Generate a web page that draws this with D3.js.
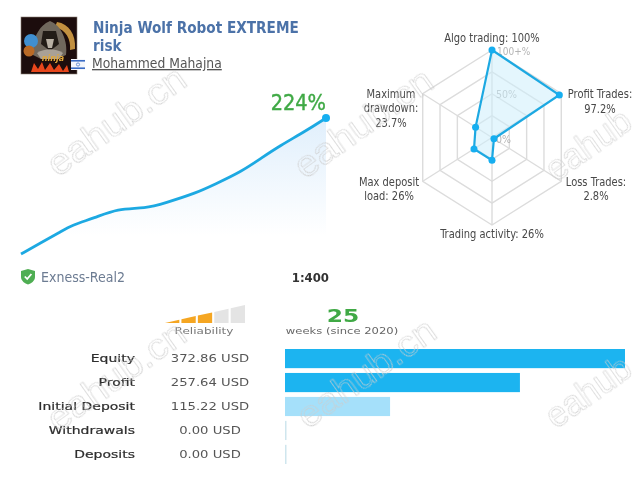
<!DOCTYPE html>
<html>
<head>
<meta charset="utf-8">
<style>
html, body { margin: 0; padding: 0; background: #fff; }
svg { display: block; }
</style>
<script src="https://d3js.org/d3.v7.min.js"></script>
</head>
<body>
<div id="chart"></div>
<script>
// growth curve
var growthWeeks = [0, 1.6, 3.2, 4.2, 6, 7.9, 10.2, 11.8, 14.3, 15.9, 18, 19.7, 21.2, 23.3, 25];
var growthValues = [0, 18, 36, 48, 59, 75, 75, 84, 100, 115, 135, 158, 178, 202, 224];

// radar
var radarNames = ["Algo trading", "Profit Trades", "Loss Trades", "Trading activity", "Max deposit load", "Maximum drawdown"];
var radarValues = [100, 97.2, 2.8, 26, 26, 23.7];
var radarRings = [25, 50, 75, 100];

// money table
var moneyNames = ["Equity", "Profit", "Initial Deposit", "Withdrawals", "Deposits"];
var moneyValues = [372.86, 257.64, 115.22, 0, 0];
var moneyColors = ["#1eb4f0", "#1eb4f0", "#a5e0fa", "#cfe6ee", "#cfe6ee"];

// reliability steps, 1 = lit
var reliabilitySteps = [1, 1, 1, 0, 0];

var svg = d3.select("#chart").append("svg")
	.attr("width", 640)
	.attr("height", 480);

var defs = svg.append("defs");
defs.append("filter").attr("id", "soft")
	.attr("x", "-5%").attr("y", "-5%").attr("width", "110%").attr("height", "110%")
	.append("feGaussianBlur").attr("stdDeviation", 0.35);

var grad = defs.append("linearGradient").attr("id", "areaFade")
	.attr("gradientUnits", "userSpaceOnUse")
	.attr("x1", 0).attr("x2", 0).attr("y1", 118).attr("y2", 236);
grad.append("stop").attr("offset", "0%").attr("stop-color", "#e0effc");
grad.append("stop").attr("offset", "100%").attr("stop-color", "#ffffff");

var page = svg.append("g").attr("filter", "url(#soft)");

var sans = "'DejaVu Sans Condensed', 'DejaVu Sans', sans-serif";
var wide = "'DejaVu Sans', sans-serif";

function label(parent, txt, x, y, size, color, anchor, weight, family, stretch) {
	return parent.append("text")
		.attr("transform", "translate(" + x + "," + y + ") scale(" + (stretch || 1) + ",1)")
		.attr("text-anchor", anchor || "start")
		.attr("font-family", family || sans)
		.attr("font-size", size)
		.attr("font-weight", weight || "normal")
		.attr("fill", color)
		.text(txt);
}

// ---- avatar and header
var avatar = page.append("g").attr("transform", "translate(21,17)");
avatar.append("rect").attr("width", 56).attr("height", 57).attr("fill", "#1c0b08").attr("stroke", "#8a7f78").attr("stroke-width", 0.6);
avatar.append("path").attr("d", "M36 5 C48 7 55 17 54 32 L49 33 C50 22 45 13 34 10 Z").attr("fill", "#c2903f");
avatar.append("path").attr("d", "M12 38 C10 24 18 8 29 4 C40 8 47 24 45 38 L36 42 L20 42 Z").attr("fill", "#6f675d");
avatar.append("path").attr("d", "M22 14 L35 14 L38 27 L29 34 L20 27 Z").attr("fill", "#241b17");
avatar.append("path").attr("d", "M25 22 L33 22 L31 31 L27 31 Z").attr("fill", "#b9b1a4");
avatar.append("path").attr("d", "M16 36 C24 31 34 31 42 36 L38 42 L20 42 Z").attr("fill", "#a9a196");
avatar.append("circle").attr("cx", 10).attr("cy", 24).attr("r", 7).attr("fill", "#3f8fd0");
avatar.append("circle").attr("cx", 8).attr("cy", 34).attr("r", 5.5).attr("fill", "#b96a28");
avatar.append("text").attr("x", 32).attr("y", 44).attr("text-anchor", "middle")
	.attr("font-family", wide).attr("font-size", 8).attr("font-weight", "bold").attr("font-style", "italic")
	.attr("fill", "#e0a83c").text("ninja");
avatar.append("path")
	.attr("d", "M10 55 L13 46 L17 52 L21 45 L24 53 L29 46 L33 53 L38 47 L42 54 L46 48 L48 55 Z")
	.attr("fill", "#e8461c");

var flag = page.append("g").attr("transform", "translate(71,59)");
flag.append("rect").attr("width", 14).attr("height", 11).attr("fill", "#f4f6fb");
flag.append("rect").attr("y", 1).attr("width", 14).attr("height", 1.6).attr("fill", "#3a6cc4");
flag.append("rect").attr("y", 8.4).attr("width", 14).attr("height", 1.6).attr("fill", "#3a6cc4");
flag.append("circle").attr("cx", 7).attr("cy", 5.5).attr("r", 1.6).attr("fill", "none").attr("stroke", "#3a6cc4").attr("stroke-width", 0.7);

label(page, "Ninja Wolf Robot EXTREME", 93, 33, 15, "#4c72a8", "start", "bold", wide, 0.91);
label(page, "risk", 93, 51, 15, "#4c72a8", "start", "bold", wide, 0.91);
label(page, "Mohammed Mahajna", 92, 68, 13.5, "#555555", "start", "normal", sans, 1.02)
	.attr("text-decoration", "underline");

// ---- growth line
var xGrowth = d3.scaleLinear().domain([0, 25]).range([21, 326]);
var yGrowth = d3.scaleLinear().domain([0, 224]).range([254, 118]);
var growth = growthWeeks.map(function(w, i) { return { week: w, value: growthValues[i] }; });

page.append("path").datum(growth)
	.attr("fill", "url(#areaFade)")
	.attr("d", d3.area().curve(d3.curveBasis)
		.x(function(d) { return xGrowth(d.week); })
		.y0(yGrowth(0))
		.y1(function(d) { return yGrowth(d.value); }));
page.append("path").datum(growth)
	.attr("fill", "none")
	.attr("stroke", "#1fa9e2")
	.attr("stroke-width", 2.8)
	.attr("d", d3.line().curve(d3.curveBasis)
		.x(function(d) { return xGrowth(d.week); })
		.y(function(d) { return yGrowth(d.value); }));
page.append("circle")
	.attr("cx", xGrowth(growthWeeks[growthWeeks.length - 1]))
	.attr("cy", yGrowth(growthValues[growthValues.length - 1]))
	.attr("r", 4).attr("fill", "#17aff0");

label(page, growthValues[growthValues.length - 1] + "%", 326, 110, 21.5, "#3fa945", "end", "normal", sans)
	.attr("stroke", "#3fa945").attr("stroke-width", 0.4);

// ---- account line
var shield = page.append("g").attr("transform", "translate(21,269)");
shield.append("path").attr("d", "M7 0 L14 2 L14 8 C14 12 10 14.5 7 15.5 C4 14.5 0 12 0 8 L0 2 Z").attr("fill", "#4fae52");
shield.append("path").attr("d", "M3.8 7.5 L6.2 10 L10.4 5").attr("fill", "none").attr("stroke", "#fff").attr("stroke-width", 1.8);
label(page, "Exness-Real2", 41, 282, 14, "#6c7b92", "start", "normal", sans);
label(page, "1:400", 329, 282, 13, "#333333", "end", "bold", sans);

// ---- radar
var cx = 492, cy = 137.5;
var rScale = d3.scaleLinear().domain([0, 100]).range([0, 1]);
var radX = 80, radY = 87.5;
function radarPoint(value, i) {
	var a = i * Math.PI / 3;
	return [cx + radX * rScale(value) * Math.sin(a), cy - radY * rScale(value) * Math.cos(a)];
}
var radarLine = d3.line().curve(d3.curveLinearClosed);

page.selectAll(".ring").data(radarRings).enter().append("path")
	.attr("class", "ring")
	.attr("fill", "none").attr("stroke", "#dcdcdc").attr("stroke-width", 1.4)
	.attr("d", function(r) { return radarLine(radarNames.map(function(n, i) { return radarPoint(r, i); })); });
page.selectAll(".spoke").data(radarNames).enter().append("line")
	.attr("class", "spoke")
	.attr("stroke", "#dcdcdc").attr("stroke-width", 1.4)
	.attr("x1", cx).attr("y1", cy)
	.attr("x2", function(d, i) { return radarPoint(100, i)[0]; })
	.attr("y2", function(d, i) { return radarPoint(100, i)[1]; });

label(page, "100+%", 497, 55, 10, "#b4b4b4");
label(page, "50%", 496, 98, 10.5, "#b4b4b4");
label(page, "0%", 496, 143, 10.5, "#b4b4b4");

page.append("path")
	.attr("d", radarLine(radarValues.map(radarPoint)))
	.attr("fill", "#cdeefc").attr("fill-opacity", 0.55)
	.attr("stroke", "#1fa9e2").attr("stroke-width", 2.2);
page.selectAll(".dot").data(radarValues).enter().append("circle")
	.attr("class", "dot")
	.attr("cx", function(d, i) { return radarPoint(d, i)[0]; })
	.attr("cy", function(d, i) { return radarPoint(d, i)[1]; })
	.attr("r", 3.5).attr("fill", "#13aef0");

var ink = "#484848";
function radarLabel(txt, x, y) { return label(page, txt, x, y, 12, ink, "middle", "normal", sans, 0.92); }
radarLabel(radarNames[0] + ": " + radarValues[0] + "%", 492, 42);
radarLabel(radarNames[1] + ":", 600, 98);
radarLabel(radarValues[1] + "%", 600, 113);
radarLabel(radarNames[2] + ":", 596, 186);
radarLabel(radarValues[2] + "%", 596, 200);
radarLabel(radarNames[3] + ": " + radarValues[3] + "%", 492, 238);
radarLabel("Max deposit", 389, 186);
radarLabel("load: " + radarValues[4] + "%", 389, 200);
radarLabel("Maximum", 391, 98);
radarLabel("drawdown:", 391, 112);
radarLabel(radarValues[5] + "%", 391, 127);

// ---- reliability
var xRel = d3.scaleBand().domain(d3.range(reliabilitySteps.length)).range([165, 245]).paddingInner(0.13);
var yRel = d3.scaleLinear().domain([165, 245]).range([323, 305]);
page.selectAll(".rel").data(reliabilitySteps).enter().append("path")
	.attr("class", "rel")
	.attr("fill", function(d) { return d ? "#f5a623" : "#e4e4e4"; })
	.attr("d", function(d, i) {
		var x0 = xRel(i), x1 = x0 + xRel.bandwidth();
		return d3.line()([[x0, 323], [x0, yRel(x0)], [x1, yRel(x1)], [x1, 323]]) + "Z";
	});
label(page, "Reliability", 204, 334, 9.5, "#777777", "middle", "normal", wide, 1.27);
label(page, "25", 343, 322, 18, "#3fa945", "middle", "bold", wide, 1.3);
label(page, "weeks (since 2020)", 342, 334, 9.5, "#666666", "middle", "normal", wide, 1.22);

// ---- money table
var yMoney = d3.scaleBand().domain(moneyNames).range([349, 464]).paddingInner(0.2);
var xMoney = d3.scaleLinear().domain([0, 372.86]).range([0, 340]);

page.selectAll(".bar").data(moneyValues).enter().append("rect")
	.attr("class", "bar")
	.attr("x", 285)
	.attr("y", function(d, i) { return yMoney(moneyNames[i]); })
	.attr("width", function(d) { return Math.max(xMoney(d), 1.5); })
	.attr("height", yMoney.bandwidth())
	.attr("fill", function(d, i) { return moneyColors[i]; });

moneyNames.forEach(function(name, i) {
	var y = yMoney(name) + yMoney.bandwidth() / 2 + 3.5;
	label(page, name, 135, y, 10, "#2e2e2e", "end", "normal", wide, 1.4)
		.attr("stroke", "#2e2e2e").attr("stroke-width", 0.2);
	label(page, moneyValues[i].toFixed(2) + " USD", 210, y, 10, "#555555", "middle", "normal", wide, 1.32);
});

// ---- watermarks, the two on the right run up to the page edge so they only show "eahub"
var marks = [
	[58, 178, "eahub.cn", 1.06], [305, 180, "eahub.cn", 1.06], [556, 183, "eahub", 0.94],
	[58, 433, "eahub.cn", 1.06], [308, 430, "eahub.cn", 1.06], [556, 430, "eahub", 0.94]
];
svg.selectAll(".mark").data(marks).enter().append("text")
	.attr("class", "mark")
	.attr("transform", function(d) { return "translate(" + d[0] + "," + d[1] + ") rotate(-35.5) scale(" + d[3] + ",1)"; })
	.attr("font-family", "'Liberation Sans', sans-serif")
	.attr("font-size", 37)
	.attr("fill", "none")
	.attr("stroke", "#cdcdcd")
	.attr("stroke-width", 0.6)
	.text(function(d) { return d[2]; });
</script>
</body>
</html>
